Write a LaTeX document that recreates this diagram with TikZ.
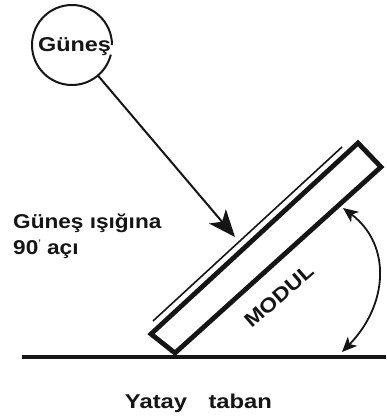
\documentclass[tikz,border=0pt]{standalone}
\usepackage{fontspec}
\setmainfont{Liberation Sans}
\usetikzlibrary{arrows.meta,calc}
\definecolor{ink}{HTML}{151515}
\tikzset{
  lab/.style={font=\bfseries\fontsize{20}{24}\selectfont, text=ink, inner sep=0pt, anchor=west},
  ray/.style={draw=ink, line width=2pt, -{Stealth[length=27pt,width=22pt,inset=7pt]}},
  angarrow/.style={draw=ink, line width=1.8pt, {Stealth[length=15pt,width=13pt,inset=4pt]}-{Stealth[length=15pt,width=13pt,inset=4pt]}},
}
\begin{document}
\begin{tikzpicture}[x=1pt,y=-1pt]
\useasboundingbox (0,0) rectangle (386,417);
\fill[white] (0,0) rectangle (386,417);
% sun
\node[circle, draw=none, minimum size=80pt, inner sep=0pt] (sun) at (72,45) {};
\draw[ink, line width=2pt] (112,45) arc[start angle=0,end angle=346,radius=40pt];
\node[lab, anchor=center] (sunlabel) at (74.5,47) {\scalebox{1.17}[1]{Güneş}};
% ray
\coordinate (hit) at (235,237);
\draw[ray] (sun) -- (hit);
% ground
\coordinate (gl) at (22,357);
\coordinate (gr) at (386,357);
\draw[ink, line width=3.2pt] (gl) -- (gr);
% module
\draw[ink, line width=4.8pt, line join=miter, fill=white] (358,143) -- (381,167) -- (175,353) -- (151,334) -- cycle;
% glass line
\coordinate (ga) at (153,321);
\coordinate (gb) at (342,147);
\draw[ink, line width=1.6pt] (ga) -- (gb);
% angle
\coordinate (aa) at (343,208);
\coordinate (ab) at (342,352);
\draw[angarrow] (aa) .. controls (392,245) and (388,305) .. (ab);
% labels
\node[lab] (l1) at (13,223) {\scalebox{1.13}[1]{Güneş ışığına}};
\node[lab] (l2) at (13,249) {\scalebox{1.13}[1]{90\raisebox{.45em}{\fontsize{8}{8}\selectfont '} açı}};
\node[lab, anchor=center, rotate=41] (modul) at (279,296) {\scalebox{1.15}[1]{MODUL}};
\node[lab, anchor=center] (taban) at (198.5,403) {\scalebox{1.19}[1]{Yatay\hspace{.9em}taban}};
\end{tikzpicture}
\end{document}
